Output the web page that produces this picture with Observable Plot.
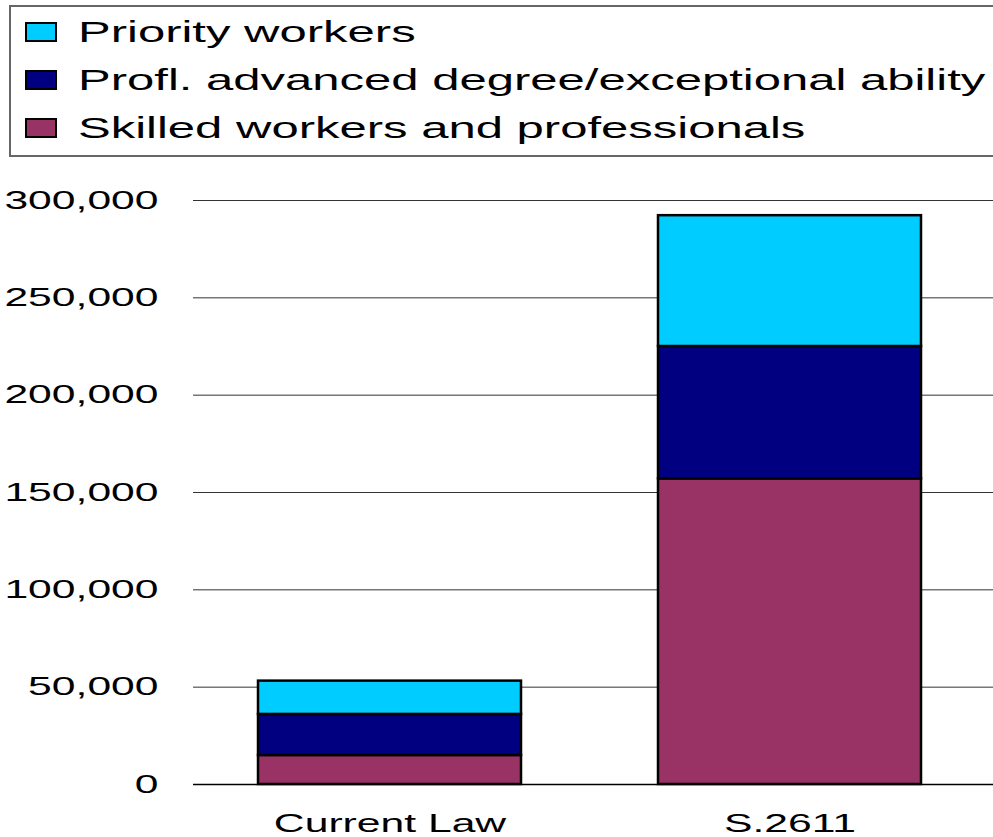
<!DOCTYPE html>
<html>
<head>
<meta charset="utf-8">
<script src="https://cdn.jsdelivr.net/npm/d3@7"></script>
<script src="https://cdn.jsdelivr.net/npm/@observablehq/plot@0.6"></script>
<style>
  html, body { margin: 0; padding: 0; background: #fff; }
  #wrap { position: relative; width: 993px; height: 837px; overflow: hidden; font-family: "Liberation Sans", Arial, sans-serif; }
  #legend { position: absolute; left: 9px; top: 5px; width: 1100px; height: 148px; border: 2px solid #666; box-sizing: content-box; }
  .sw { position: absolute; width: 28px; height: 16px; border: 2px solid #000; }
  .lt { position: absolute; font-size: 29px; line-height: 29px; white-space: nowrap; transform: scaleX(1.69); transform-origin: 0 50%; color: #000; }
  #chart { position: absolute; left: 0; top: 0; }
</style>
</head>
<body>
<div id="wrap">
  <div id="chart"></div>
  <div id="legend"></div>
</div>
<script>
// ---- data ----
const categories = ["Current Law", "S.2611"];
const seriesNames = ["Skilled workers and professionals", "Profl. advanced degree/exceptional ability", "Priority workers"];
const skilled  = [14900, 157000];
const profl    = [21100, 68000];
const priority = [17100, 67200];
const seriesColors = ["#993366", "#000080", "#00CCFF"];
const yTicks = [0, 50000, 100000, 150000, 200000, 250000, 300000];
const legendOrder = ["Priority workers", "Profl. advanced degree/exceptional ability", "Skilled workers and professionals"];

const seriesValues = [skilled, profl, priority];
const rows = [];
seriesNames.forEach((s, i) => categories.forEach((c, j) => rows.push({category: c, series: s, value: seriesValues[i][j]})));

const STRETCH = 1.64;

const plot = Plot.plot({
  width: 993,
  height: 837,
  marginTop: 200,
  marginBottom: 53,
  marginLeft: 193,
  marginRight: 0,
  style: {fontFamily: "'Liberation Sans', Arial, sans-serif", fontSize: "26px", color: "#000", background: "#fff", overflow: "visible"},
  x: {domain: categories, range: [193, 986], paddingInner: 0.343, paddingOuter: 0.1625, label: null},
  y: {domain: [0, 300000], label: null},
  color: {domain: seriesNames, range: seriesColors},
  marks: [
    Plot.ruleY(yTicks.filter(d => d > 0), {stroke: "#333", strokeWidth: 1}),
    Plot.ruleY([0], {stroke: "#000", strokeWidth: 1.5}),
    Plot.barY(rows, {x: "category", y: "value", fill: "series", stroke: "#000", strokeWidth: 2.5, order: seriesNames}),
    Plot.axisY({ticks: yTicks, tickFormat: d3.format(","), tickSize: 0, tickPadding: 35, fontSize: 26, label: null}),
    Plot.axisX({tickSize: 0, tickPadding: 29, fontSize: 26, label: null})
  ]
});
document.getElementById("chart").appendChild(plot);

// horizontally widen the text glyphs like the reference
plot.querySelectorAll("text").forEach(t => {
  const L = t.getComputedTextLength();
  if (L > 0) {
    t.setAttribute("textLength", (L * STRETCH).toFixed(1));
    t.setAttribute("lengthAdjust", "spacingAndGlyphs");
  }
});

// legend
const legend = document.getElementById("legend");
const colorOf = Object.fromEntries(seriesNames.map((s, i) => [s, seriesColors[i]]));
legendOrder.forEach((name, i) => {
  const sw = document.createElement("div");
  sw.className = "sw";
  sw.style.left = (25 - 11) + "px";
  sw.style.top = (22 - 7 + i * 48) + "px";
  sw.style.background = colorOf[name];
  legend.appendChild(sw);
  const tx = document.createElement("div");
  tx.className = "lt";
  tx.textContent = name;
  tx.style.left = (78 - 11) + "px";
  tx.style.top = (18 - 7 + i * 48) + "px";
  legend.appendChild(tx);
});
</script>
</body>
</html>
